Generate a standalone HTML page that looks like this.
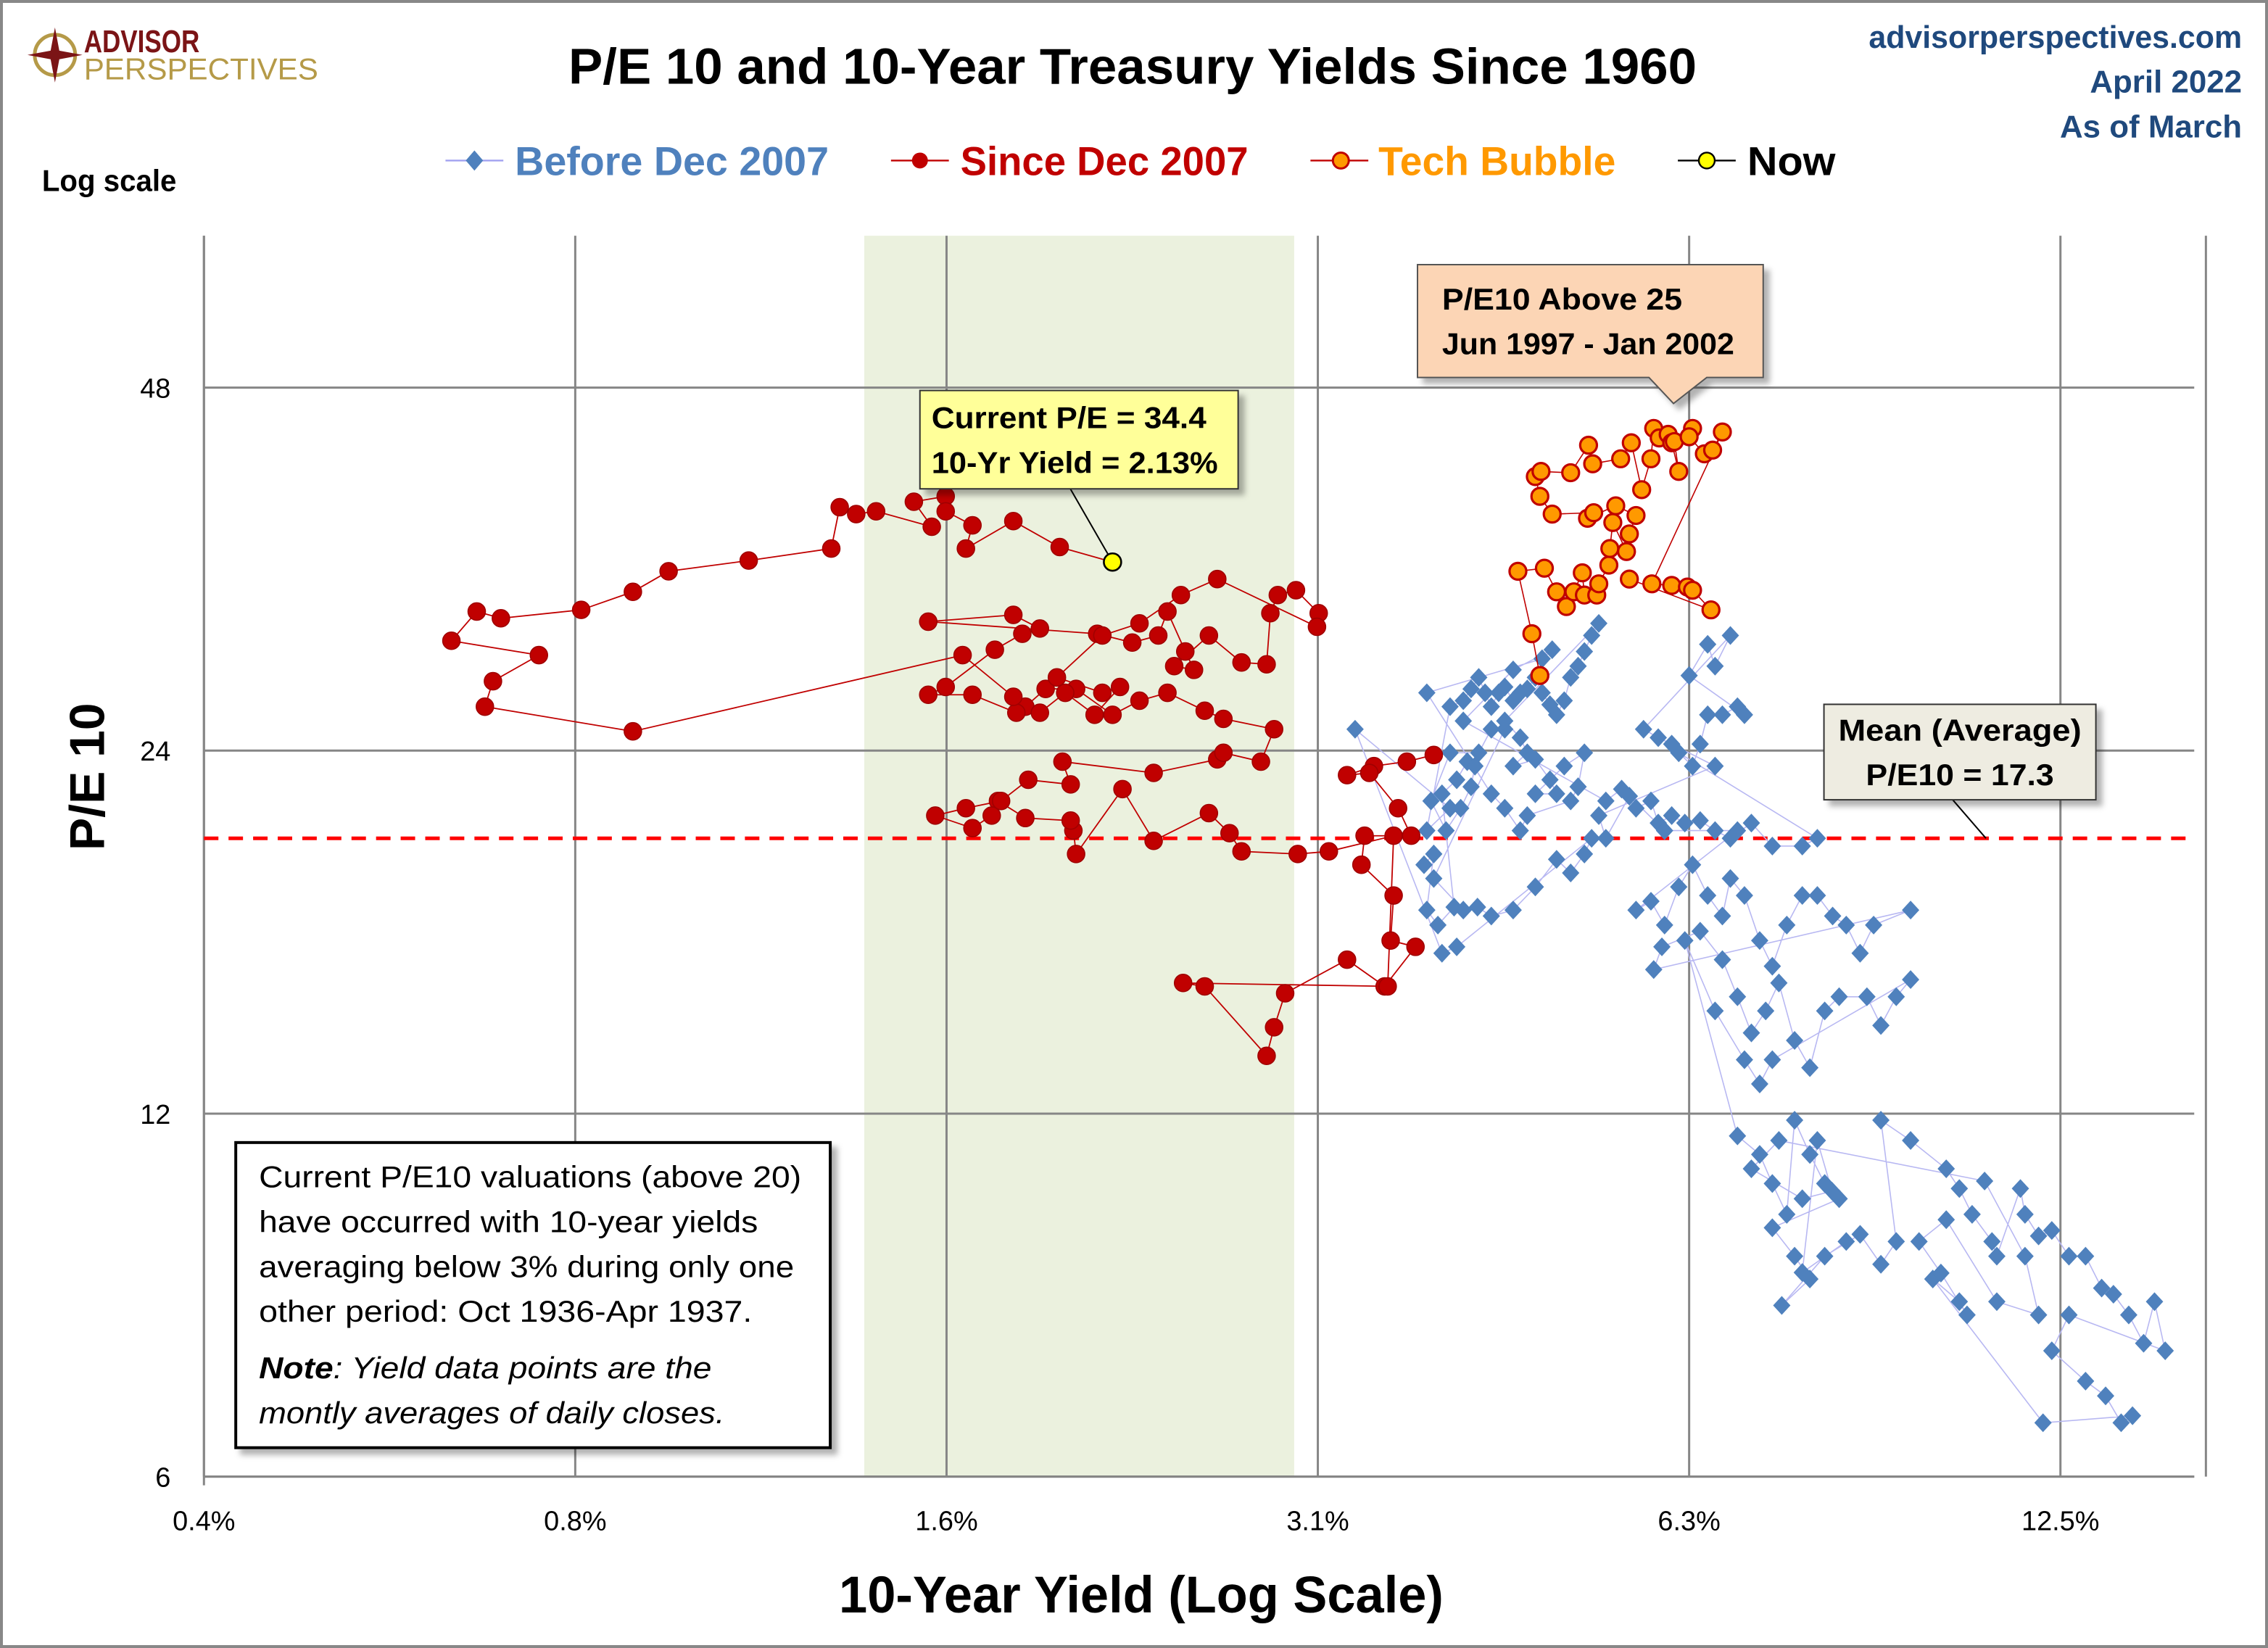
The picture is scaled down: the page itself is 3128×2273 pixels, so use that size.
<!DOCTYPE html>
<html><head><meta charset="utf-8"><title>P/E 10 and 10-Year Treasury Yields Since 1960</title>
<style>html,body{margin:0;padding:0;background:#fff}svg{display:block}text{font-family:"Liberation Sans",sans-serif}</style></head>
<body>
<svg id="chart" xmlns="http://www.w3.org/2000/svg" width="3128" height="2273" viewBox="0 0 1568 1139.5" preserveAspectRatio="none">
<defs><filter id="sh" x="-10%" y="-10%" width="130%" height="140%"><feDropShadow dx="4" dy="4" stdDeviation="2" flood-color="#000" flood-opacity="0.3"/></filter></defs>
<rect x="1" y="1" width="1566" height="1137.5" fill="#fff" stroke="#888" stroke-width="2"/>
<g>
<circle cx="38" cy="38" r="14" fill="none" stroke="#b59a48" stroke-width="2.5"/>
<polygon points="38,19 41,35 57,38 41,41 38,57 35,41 19,38 35,35" fill="#7b1416"/>
<text x="58" y="36" font-size="22" font-weight="bold" fill="#7b1416" textLength="80" lengthAdjust="spacingAndGlyphs">ADVISOR</text>
<text x="58" y="55" font-size="21" fill="#b59a48" textLength="162" lengthAdjust="spacingAndGlyphs">PERSPECTIVES</text>
</g>
<text x="783" y="58" font-size="35" font-weight="bold" text-anchor="middle" textLength="780" lengthAdjust="spacingAndGlyphs">P/E 10 and 10-Year Treasury Yields Since 1960</text>
<g font-size="22" font-weight="bold" fill="#1f497d" text-anchor="end">
<text x="1550" y="33" textLength="258" lengthAdjust="spacingAndGlyphs">advisorperspectives.com</text>
<text x="1550" y="64">April 2022</text>
<text x="1550" y="95">As of March</text>
</g>
<text x="29" y="132" font-size="21" font-weight="bold" textLength="93" lengthAdjust="spacingAndGlyphs">Log scale</text>
<g id="legend" font-size="28" font-weight="bold">
<g><line x1="308" y1="111" x2="348" y2="111" stroke="#a0a0f0" stroke-width="1.2"/><polygon points="328,104 334,111 328,118 322,111" fill="#4f81bd"/><text x="356" y="121" fill="#4f81bd" textLength="217" lengthAdjust="spacingAndGlyphs">Before Dec 2007</text></g>
<g><line x1="616" y1="111" x2="656" y2="111" stroke="#c00000" stroke-width="1.2"/><circle cx="636" cy="111" r="5.5" fill="#c00000"/><text x="664" y="121" fill="#c00000" textLength="199" lengthAdjust="spacingAndGlyphs">Since Dec 2007</text></g>
<g><line x1="906" y1="111" x2="946" y2="111" stroke="#c00000" stroke-width="1.2"/><circle cx="927" cy="111" r="5.5" fill="#ff9900" stroke="#c00000" stroke-width="1.5"/><text x="953" y="121" fill="#ff9900" textLength="164" lengthAdjust="spacingAndGlyphs">Tech Bubble</text></g>
<g><line x1="1160" y1="111" x2="1200" y2="111" stroke="#000" stroke-width="1.2"/><circle cx="1180" cy="111" r="5.5" fill="#ffff00" stroke="#000" stroke-width="1.2"/><text x="1208" y="121" fill="#000" textLength="61" lengthAdjust="spacingAndGlyphs">Now</text></g>
</g>
<g id="plot"></g>
<text transform="translate(72,537) rotate(-90)" font-size="34" font-weight="bold" text-anchor="middle">P/E 10</text>
<text x="789" y="1115" font-size="36" font-weight="bold" text-anchor="middle" textLength="418" lengthAdjust="spacingAndGlyphs">10-Year Yield (Log Scale)</text>
<g>
<rect x="163" y="790" width="411" height="211" fill="#fff" stroke="#000" stroke-width="2" filter="url(#sh)"/>
<g font-size="21">
<text x="179" y="821" textLength="375" lengthAdjust="spacingAndGlyphs">Current P/E10 valuations  (above 20)</text>
<text x="179" y="852" textLength="345" lengthAdjust="spacingAndGlyphs">have occurred with 10-year yields</text>
<text x="179" y="883" textLength="370" lengthAdjust="spacingAndGlyphs">averaging below 3% during only one</text>
<text x="179" y="914" textLength="341" lengthAdjust="spacingAndGlyphs">other period: Oct 1936-Apr 1937.</text>
<text x="179" y="953" font-style="italic" textLength="313" lengthAdjust="spacingAndGlyphs"><tspan font-weight="bold">Note</tspan>: Yield data points are the</text>
<text x="179" y="984" font-style="italic" textLength="322" lengthAdjust="spacingAndGlyphs">montly averages of daily closes.</text>
</g></g>
</svg>
<script>
const xTicks = [0.390625, 0.78125, 1.5625, 3.125, 6.25, 12.5];
const xTickLabels = ["0.4%", "0.8%", "1.6%", "3.1%", "6.3%", "12.5%"];
const yTicks = [6, 12, 24, 48];
const yTickLabels = ["6", "12", "24", "48"];
const shadeRange = [1.34, 2.99];
const meanPE = [20.3];
const nowPoint = [2.13, 34.4];
const beforeData = [
[3.81,19.3],[3.88,19.7],[3.83,17.7],[3.91,17.2],[4.03,17.8],[3.94,22.1],[4.05,22.7],[4.13,23.5],[4.19,23.3],[4.16,22.4],[4.08,21.5],[3.97,20.6],[3.86,21.8],[4.00,23.9],[4.22,23.9],[4.32,25.0],[4.43,25.0],[3.88,18.8],[4.10,17.7],[4.21,17.8],[4.32,17.5],[4.50,17.7],[4.69,18.5],[4.88,19.5],[5.01,19.0],[5.14,19.7],[5.21,20.3],[4.05,16.5],[3.94,16.3],[3.35,25.0],[4.00,21.5],[3.83,20.6],
[4.00,26.1],[4.10,26.4],[4.16,27.0],[4.22,27.6],[4.27,26.8],[4.32,26.1],[4.38,26.8],[4.43,27.1],[4.50,26.4],[4.56,26.8],[4.62,27.0],[4.69,27.6],[4.75,26.8],[4.82,26.2],[4.88,25.7],[4.95,26.4],[5.01,27.6],[5.08,28.2],[5.14,29.0],[5.21,29.9],[5.28,30.6],[4.43,25.4],[4.56,24.6],[4.62,23.9],[4.50,23.3],[4.69,23.6],[4.82,22.7],[4.88,22.1],[4.69,22.1],[4.95,23.3],[5.14,23.9],[5.08,22.4],[5.01,21.8],[4.62,21.2],[4.56,20.6],[4.43,21.5],[4.32,22.1],[3.83,26.8],[4.75,28.6],[4.84,29.1],[4.50,28.0],[4.10,25.4],
[5.35,21.8],[5.51,22.3],[5.66,21.5],[5.82,21.8],[5.90,20.9],[6.05,21.2],[6.20,20.9],[6.38,21.0],[6.56,20.6],[6.75,20.3],[7.02,20.9],[7.30,20.0],[7.72,20.0],[7.94,20.3],[6.13,23.9],[6.29,23.3],[6.38,24.3],[6.47,25.7],[6.65,25.7],[6.84,26.1],[6.93,25.7],[6.25,27.7],[6.47,29.4],[6.56,28.2],[6.75,29.9],[5.74,25.0],[5.90,24.6],[6.05,24.3],[6.56,23.3],[5.28,21.2],[5.35,20.3],[5.59,22.0],[5.97,20.6],[6.84,20.6],
[5.66,17.7],[5.82,18.0],[5.97,17.2],[6.13,18.5],[6.29,19.3],[6.47,18.2],[6.65,17.5],[6.75,18.8],[6.93,18.2],[7.13,16.7],[7.30,15.9],[7.50,17.2],[7.72,18.2],[7.94,18.2],[8.17,17.5],[8.38,17.2],[8.60,16.3],[8.82,17.2],[9.45,17.7],[5.85,15.8],[5.94,16.5],[6.38,17.0],[6.65,16.1],[6.84,15.0],[7.02,14.0],[7.21,14.6],[7.39,15.4],[7.61,13.8],[7.83,13.1],[8.05,14.6],[8.27,15.0],[8.71,15.0],[8.94,14.2],[9.20,15.0],[9.45,15.5],[7.30,13.3],[7.13,12.7],[6.93,13.3],[6.56,14.6],[6.20,16.7],
[6.84,11.5],[7.13,11.1],[7.30,10.5],[7.50,9.9],[7.61,11.85],[7.83,11.1],[8.05,10.5],[8.27,10.2],[7.30,9.65],[7.61,9.14],[7.83,8.75],[7.43,8.32],[8.05,9.14],[8.60,9.53],[8.94,9.0],[9.20,9.4],[8.94,11.85],[9.45,11.4],[10.1,10.8],[10.35,10.4],[10.6,9.9],[11.0,9.4],[11.1,9.14],[11.6,10.4],[11.7,9.9],[12.0,9.5],[12.3,9.6],[12.7,9.14],[13.1,9.14],[13.5,8.6],[13.8,8.5],[14.2,8.17],[14.6,7.74],[14.9,8.38],[15.2,7.63],[12.7,8.17],[12.3,7.63],[13.1,7.2],[13.6,7.0],[14.0,6.65],[14.3,6.74],[12.1,6.65],[9.85,8.75],[10.35,8.38],[10.5,8.17],[10.0,8.85],[9.6,9.4],[10.1,9.8],[11.1,8.38],[12.0,8.17],[11.7,9.14],[10.85,10.55],[7.39,11.4],[7.02,10.8],[7.72,10.2],[8.16,10.35],[7.94,11.4],[7.72,8.86],[8.38,9.4]
];
const sinceData = [
[3.88,23.8],[3.69,23.5],[3.47,23.3],[3.30,22.9],[3.44,23.0],[3.63,21.5],[3.72,20.4],[3.41,20.4],[3.39,19.3],[3.60,18.2],[3.58,16.7],[3.75,16.5],[3.54,15.3],[3.30,16.1],[2.94,15.1],[2.88,14.15],[2.84,13.4],[2.53,15.3],[2.43,15.4],[3.56,15.3],[3.60,20.4],[3.19,19.8],[3.01,19.7],[2.71,19.8],[2.65,20.5],[2.55,21.3],[2.30,20.2],[2.17,22.3],[1.99,19.7],[1.98,20.6],[1.97,21.0],[1.81,21.1],[1.72,21.8],[1.70,21.2],[1.64,20.7],[1.53,21.2],[1.62,21.5],[1.73,21.8],[1.82,22.7],[1.97,22.5],[1.94,23.5],[2.30,23.0],[2.59,23.6],[2.62,23.9],[2.81,23.5],[2.88,25.0],[2.62,25.5],[2.53,25.9],[2.36,26.8],[2.24,26.4],[2.13,25.7],[1.99,27.0],[1.88,27.0],[1.81,26.1],[1.78,25.8],[1.64,26.7],[1.51,26.7],[1.56,27.1],[1.71,29.1],[1.80,30.0],[1.86,30.3],[1.77,31.1],[1.51,30.7],[2.07,30.0],[2.21,29.5],[2.32,29.9],[2.36,31.3],[2.44,29.0],[2.48,28.0],[2.39,28.2],[2.55,29.9],[2.71,28.4],[2.84,28.3],[2.86,31.2],[2.90,32.3],[3.00,32.6],[3.13,31.2],[3.12,30.4],[2.59,33.3],[2.42,32.3],[2.24,30.6],[2.09,29.9],[1.92,27.6],[2.09,26.8],[2.16,27.1],[2.06,25.7],[1.95,26.8],[1.86,25.8],[1.77,26.6],[1.61,28.8],[0.87,24.9],[0.66,26.1],[0.67,27.4],[0.73,28.8],[0.62,29.6],[0.65,31.3],[0.68,30.9],[0.79,31.4],[0.87,32.5],[0.93,33.8],[1.08,34.5],[1.26,35.3],[1.28,38.2],[1.32,37.7],[1.37,37.9],[1.52,36.8],[1.47,38.6],[1.56,39.0],[1.56,37.9],[1.64,36.9],[1.62,35.3],[1.77,37.2],[1.93,35.4]
];
const techData = [
[4.73,27.7],[4.66,30.0],[4.54,33.8],[4.77,34.0],[4.88,32.5],[4.97,31.6],[5.04,32.5],[5.12,33.7],[5.14,32.3],[5.26,32.3],[5.28,33.0],[5.38,34.2],[5.39,35.3],[5.42,37.1],[5.56,35.1],[5.59,36.3],[5.66,37.6],[5.45,38.3],[5.17,37.4],[5.23,37.8],[4.84,37.7],[4.73,39.0],[4.69,40.5],[4.74,40.9],[5.01,40.8],[5.18,43.0],[5.22,41.5],[5.50,41.9],[5.61,43.2],[5.72,39.5],[5.82,41.9],[5.85,44.4],[5.91,43.6],[6.01,43.9],[6.05,43.2],[6.13,40.9],[6.08,43.3],[6.29,44.4],[6.25,43.7],[6.43,42.3],[6.53,42.6],[6.65,44.1],[5.83,33.0],[6.05,32.9],[6.23,32.8],[6.29,32.6],[6.51,31.4],[5.59,33.3]
];

const NS = "http://www.w3.org/2000/svg";
const L = 141, R = 1517, T = 163, B = 1021;
function xs(v){ return L + 256.7 * Math.log2(v / 0.390625); }
function ys(v){ return B - 251 * Math.log2(v / 6); }
const plot = document.getElementById("plot");
function mk(tag, attrs, parent){ const e = document.createElementNS(NS, tag); for (const k in attrs) e.setAttribute(k, attrs[k]); (parent || plot).appendChild(e); return e; }

const shade = mk("rect", {x: xs(shadeRange[0]), y: T, width: xs(shadeRange[1]) - xs(shadeRange[0]), height: B - T, fill: "#ebf1de"});



const grid = mk("g", {stroke: "#868686", "stroke-width": 1.5});


xTicks.concat([16.4]).forEach(v => { mk("line", {x1: xs(v), x2: xs(v), y1: T, y2: B}, grid); });
yTicks.forEach(v => { mk("line", {x1: L, x2: R, y1: ys(v), y2: ys(v)}, grid); });
mk("line", {x1: L, x2: L, y1: T, y2: B + 6}, grid);
mk("line", {x1: L, x2: R, y1: B, y2: B}, grid);

const xl = mk("g", {"font-size": 19, "text-anchor": "middle"});


xTicks.forEach((v, i) => { const t = mk("text", {x: xs(v), y: B + 37}, xl); t.textContent = xTickLabels[i]; });
const yl = mk("g", {"font-size": 19, "text-anchor": "end"});


yTicks.forEach((v, i) => { const t = mk("text", {x: 118, y: ys(v) + 7}, yl); t.textContent = yTickLabels[i]; });

const mean = mk("line", {x1: L, x2: R, y1: ys(meanPE[0]), y2: ys(meanPE[0]), stroke: "#ff0000", "stroke-width": 2.5, "stroke-dasharray": "10,7"});



function pathOf(data){ return data.map((d, i) => (i ? "L" : "M") + xs(d[0]).toFixed(1) + "," + ys(d[1]).toFixed(1)).join(""); }

const bl = mk("path", {d: pathOf(beforeData), fill: "none", stroke: "#b8b8f2", "stroke-width": 0.8});


const bg = mk("g", {fill: "#4f81bd"});


beforeData.forEach(d => { const x = xs(d[0]), y = ys(d[1]);
  const p = mk("polygon", {points: `${x},${y-6.5} ${x+6},${y} ${x},${y+6.5} ${x-6},${y}`}, bg);
  
  
});

const sl = mk("path", {d: pathOf(sinceData.concat([nowPoint])), fill: "none", stroke: "#c00000", "stroke-width": 0.9});


const sg = mk("g", {fill: "#c00000", stroke: "#a00000", "stroke-width": 0.8});


sinceData.forEach(d => {
  const c = mk("circle", {cx: xs(d[0]), cy: ys(d[1]), r: 6}, sg);
  
  
});

const tl = mk("path", {d: pathOf(techData), fill: "none", stroke: "#c00000", "stroke-width": 0.8});


const tg = mk("g", {fill: "#ff9900", stroke: "#c00000", "stroke-width": 1.6});


techData.forEach(d => {
  const c = mk("circle", {cx: xs(d[0]), cy: ys(d[1]), r: 5.8}, tg);
  
  
});

const nx = xs(nowPoint[0]), ny = ys(nowPoint[1]);
const cur = mk("g", {});


mk("line", {x1: 740, y1: 338, x2: nx, y2: ny, stroke: "#000", "stroke-width": 1}, cur);
mk("rect", {x: 636, y: 270, width: 220, height: 68, fill: "#ffff99", stroke: "#333", "stroke-width": 1, filter: "url(#sh)"}, cur);
let t1 = mk("text", {x: 644, y: 296, "font-size": 21, "font-weight": "bold", textLength: 190, lengthAdjust: "spacingAndGlyphs"}, cur); t1.textContent = "Current P/E = 34.4";
let t2 = mk("text", {x: 644, y: 327, "font-size": 21, "font-weight": "bold", textLength: 198, lengthAdjust: "spacingAndGlyphs"}, cur); t2.textContent = "10-Yr Yield = 2.13%";
const nowDot = mk("circle", {cx: nx, cy: ny, r: 6, fill: "#ffff00", stroke: "#000", "stroke-width": 1.3});



const tb = mk("g", {});


mk("path", {d: "M980,183 H1219 V261 H1180 L1157,279 L1140,261 H980 Z", fill: "#fcd5b5", stroke: "#555", "stroke-width": 1, filter: "url(#sh)"}, tb);
let t3 = mk("text", {x: 997, y: 214, "font-size": 21, "font-weight": "bold", textLength: 166, lengthAdjust: "spacingAndGlyphs"}, tb); t3.textContent = "P/E10 Above 25";
let t4 = mk("text", {x: 997, y: 245, "font-size": 21, "font-weight": "bold", textLength: 202, lengthAdjust: "spacingAndGlyphs"}, tb); t4.textContent = "Jun 1997 - Jan 2002";

const mb = mk("g", {});


mk("line", {x1: 1350, y1: 553, x2: 1373, y2: ys(meanPE[0]), stroke: "#000", "stroke-width": 1}, mb);
mk("rect", {x: 1261, y: 487, width: 188, height: 66, fill: "#eeece1", stroke: "#333", "stroke-width": 1, filter: "url(#sh)"}, mb);
let t5 = mk("text", {x: 1355, y: 512, "font-size": 21, "font-weight": "bold", "text-anchor": "middle", textLength: 168, lengthAdjust: "spacingAndGlyphs"}, mb); t5.textContent = "Mean (Average)";
let t6 = mk("text", {x: 1355, y: 543, "font-size": 21, "font-weight": "bold", "text-anchor": "middle", textLength: 130, lengthAdjust: "spacingAndGlyphs"}, mb); t6.textContent = "P/E10 = 17.3";
</script>
</body></html>
